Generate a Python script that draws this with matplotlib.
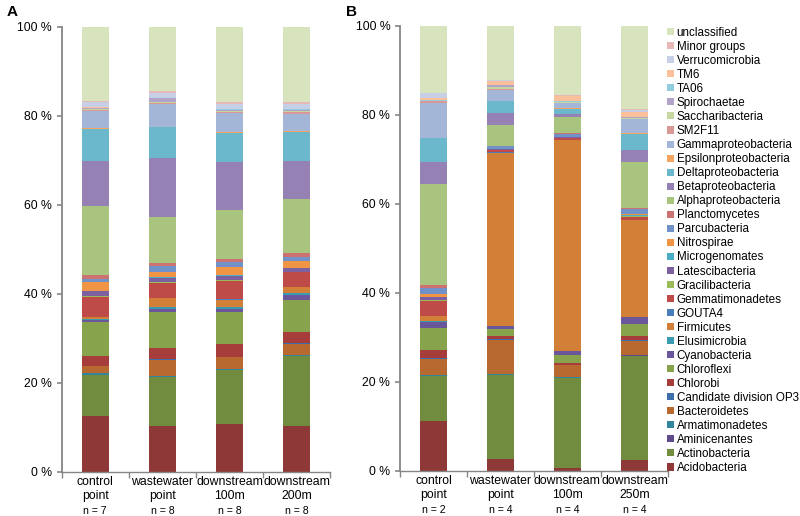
import numpy as np
import matplotlib
matplotlib.use('Agg')
import matplotlib.pyplot as plt
from matplotlib.patches import Patch

plt.rcParams['font.family'] = ['Liberation Sans', 'DejaVu Sans']

# taxa, bottom of the stack first
taxa = ['Acidobacteria', 'Actinobacteria', 'Aminicenantes', 'Armatimonadetes',
        'Bacteroidetes', 'Candidate division OP3', 'Chlorobi', 'Chloroflexi',
        'Cyanobacteria', 'Elusimicrobia', 'Firmicutes', 'GOUTA4',
        'Gemmatimonadetes', 'Gracilibacteria', 'Latescibacteria', 'Microgenomates',
        'Nitrospirae', 'Parcubacteria', 'Planctomycetes', 'Alphaproteobacteria',
        'Betaproteobacteria', 'Deltaproteobacteria', 'Epsilonproteobacteria',
        'Gammaproteobacteria', 'SM2F11', 'Saccharibacteria', 'Spirochaetae',
        'TA06', 'TM6', 'Verrucomicrobia', 'Minor groups', 'unclassified']

colors = ['#8E3937', '#718C3F', '#5F4A8B', '#31859C', '#B8692F', '#3D6DAA',
          '#A63D3B', '#87A34B', '#6A569A', '#3B9BB3', '#D27F38', '#4A7EBB',
          '#BE4B48', '#9BBB59', '#7D60A0', '#4BACC6', '#F09545', '#7092C8',
          '#CC7372', '#A9C47F', '#9581B4', '#6BB7CC', '#F5A560', '#A3B6D8',
          '#D99795', '#C5D6A1', '#B2A4C9', '#93CDDD', '#FAC09A', '#C6CFE6',
          '#E6B9B8', '#D7E4BD']

# panel A
a_sites = ['control\npoint', 'wastewater\npoint', 'downstream\n100m', 'downstream\n200m']
a_n = ['n = 7', 'n = 8', 'n = 8', 'n = 8']
a_control = [12.5, 9.2, 0.1, 0.3, 1.6, 0.1, 2.2, 7.6, 0.5, 0.2, 0.4, 0.1, 4.5, 0.1, 1.1, 0.1,
             2.0, 0.6, 0.9, 15.6, 10.1, 7.3, 0.2, 3.7, 0.4, 0.1, 0.2, 0.1, 0.1, 1.1, 0.3, 16.7]
a_wastewater = [10.3, 10.9, 0.1, 0.2, 3.7, 0.1, 2.6, 7.9, 0.7, 0.4, 2.1, 0.1, 3.3, 0.2, 1.0, 0.2,
                1.1, 1.3, 0.8, 10.3, 13.3, 6.8, 0.1, 5.2, 0.1, 0.4, 0.7, 0.1, 0.1, 1.1, 0.4, 14.4]
a_down100 = [10.7, 12.1, 0.1, 0.2, 2.6, 0.1, 2.8, 7.3, 0.7, 0.5, 1.5, 0.1, 4.2, 0.1, 0.9, 0.2,
             2.0, 1.0, 0.7, 11.0, 10.7, 6.7, 0.1, 4.3, 0.3, 0.1, 0.4, 0.1, 0.1, 1.1, 0.4, 16.9]
a_down200 = [10.3, 15.7, 0.1, 0.2, 2.5, 0.1, 2.4, 7.3, 1.1, 0.4, 1.3, 0.1, 3.3, 0.1, 0.8, 0.1,
             1.5, 0.9, 0.9, 12.1, 8.7, 6.5, 0.1, 4.0, 0.4, 0.1, 0.4, 0.1, 0.1, 1.0, 0.5, 16.9]

# panel B
b_sites = ['control\npoint', 'wastewater\npoint', 'downstream\n100m', 'downstream\n250m']
b_n = ['n = 2', 'n = 4', 'n = 4', 'n = 4']
b_control = [11.2, 10.0, 0.1, 0.2, 3.7, 0.1, 1.8, 4.9, 1.3, 0.4, 1.0, 0.1, 3.4, 0.1, 0.7, 0.1,
             0.7, 1.3, 0.6, 22.8, 4.9, 5.3, 0.1, 7.8, 0.4, 0.1, 0.1, 0.1, 0.4, 1.1, 0.1, 15.1]
b_wastewater = [2.5, 19.0, 0.1, 0.2, 7.6, 0.1, 0.7, 1.6, 0.6, 0.1, 39.0, 0.1, 0.4, 0.1, 0.1, 0.1,
                0.1, 0.5, 0.1, 4.7, 2.8, 2.6, 0.1, 2.4, 0.1, 0.5, 0.4, 0.1, 1.0, 0.1, 0.1, 12.1]
b_down100 = [0.5, 20.3, 0.1, 0.1, 2.7, 0.1, 0.5, 1.6, 0.9, 0.1, 47.4, 0.1, 0.3, 0.1, 0.1, 0.1,
             0.1, 0.6, 0.1, 3.8, 0.5, 1.3, 0.1, 1.1, 0.1, 0.1, 0.1, 0.1, 1.2, 0.1, 0.1, 15.6]
b_down250 = [2.4, 23.4, 0.1, 0.1, 3.2, 0.1, 1.0, 2.6, 1.6, 0.1, 21.7, 0.1, 0.7, 0.1, 0.1, 0.1,
             0.4, 1.0, 0.2, 10.3, 2.8, 3.6, 0.1, 3.2, 0.1, 0.1, 0.2, 0.1, 1.2, 0.4, 0.1, 18.8]

axis_col = '#868686'


def stacked_panel(ax, bars, sites, ns):
    data = np.array(bars).T  # rows = taxa, cols = sites
    x = np.arange(len(sites))
    bottom = np.zeros(len(sites))
    for i, row in enumerate(data):
        ax.bar(x, row, width=0.4, bottom=bottom, color=colors[i], linewidth=0)
        bottom += row

    ax.set_xlim(-0.5, len(sites) - 0.5)
    ax.set_ylim(0, 100)
    ax.set_yticks(np.arange(0, 101, 20))
    ax.set_yticklabels([f'{v} %' for v in range(0, 101, 20)], fontsize=8.8)
    ax.tick_params(axis='y', direction='out', length=3.5, width=1.2, color=axis_col, pad=3.5)

    # ticks between categories, labels at category centres
    ax.set_xticks(np.arange(-0.5, len(sites)), labels=[''] * (len(sites) + 1))
    ax.tick_params(axis='x', which='major', direction='out', length=4, width=1, color=axis_col)
    ax.set_xticks(x, minor=True)
    ax.set_xticklabels(sites, minor=True, fontsize=8.8, linespacing=1.22)
    ax.tick_params(axis='x', which='minor', length=0, pad=3)
    for xi, n in zip(x, ns):
        ax.annotate(n, xy=(xi, 0), xycoords=('data', 'axes fraction'),
                    xytext=(0, -24.5), textcoords='offset points',
                    ha='center', va='top', fontsize=7.6)

    for s in ['top', 'right']:
        ax.spines[s].set_visible(False)
    ax.spines['left'].set_color(axis_col)
    ax.spines['left'].set_linewidth(1.3)
    ax.spines['bottom'].set_color(axis_col)
    ax.spines['bottom'].set_linewidth(1.0)


fig = plt.figure(figsize=(8, 5.16), dpi=100)
ax_a = fig.add_axes([0.077, 0.086, 0.336, 0.862])
ax_b = fig.add_axes([0.5, 0.088, 0.335, 0.862])

stacked_panel(ax_a, [a_control, a_wastewater, a_down100, a_down200], a_sites, a_n)
stacked_panel(ax_b, [b_control, b_wastewater, b_down100, b_down250], b_sites, b_n)

fig.text(0.008, 0.977, 'A', fontsize=11, fontweight='bold', va='center')
fig.text(0.432, 0.977, 'B', fontsize=11, fontweight='bold', va='center')

handles = [Patch(facecolor=c, edgecolor='none') for c in colors][::-1]
fig.legend(handles, taxa[::-1], loc='upper left', bbox_to_anchor=(0.834, 0.948),
           frameon=False, fontsize=8.4, handlelength=0.55, handleheight=0.55,
           handletextpad=0.25, labelspacing=0.175, borderaxespad=0, borderpad=0)

fig.savefig('out.png', dpi=100)
